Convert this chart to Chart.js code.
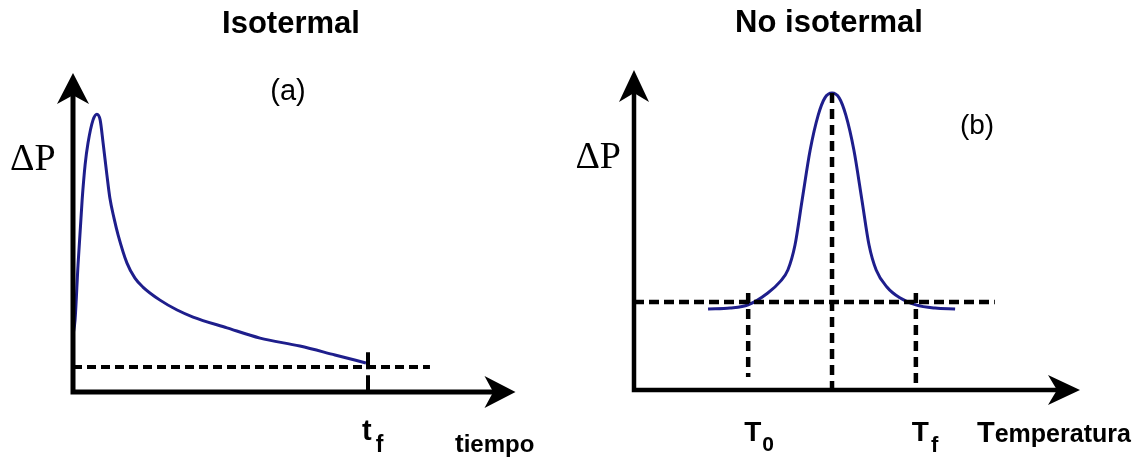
<!DOCTYPE html>
<html>
<head>
<meta charset="utf-8">
<script src="https://cdn.jsdelivr.net/npm/chart.js@4.4.0/dist/chart.umd.min.js"></script>
<style>
  html, body { margin: 0; padding: 0; background: #fff; }
  #wrap { position: relative; width: 1146px; height: 460px; }
  canvas { position: absolute; top: 0; }
  #iso { left: 0; }
  #noiso { left: 573px; }
</style>
</head>
<body>
<div id="wrap">
  <canvas id="iso" width="573" height="460"></canvas>
  <canvas id="noiso" width="573" height="460"></canvas>
</div>
<script>
// (a) isotermal: ΔP vs tiempo
const isoTime = [0, 0.007, 0.017, 0.031, 0.041, 0.051, 0.068, 0.081, 0.092, 0.102, 0.115, 0.125, 0.139, 0.153,
                 0.183, 0.210, 0.237, 0.295, 0.353, 0.407, 0.522, 0.634, 0.769, 0.888, 0.993];
const isoDP = [1.79, 2.26, 3.98, 6.02, 7.12, 7.81, 8.53, 8.71, 8.53, 7.81, 6.80, 6.08, 5.45, 4.92,
               4.04, 3.57, 3.29, 2.88, 2.57, 2.35, 2.01, 1.69, 1.44, 1.16, 0.91];
const tf = 1.0;
const isoBase = 0.78;      // dashed baseline level
const isoBaseEnd = 1.21;   // where the dashed baseline stops
const isoTickTop = 1.25;   // top of the tf marker

// (b) no isotermal: ΔP vs Temperatura
const tempX = [1.66, 2.15, 2.56, 3.0, 3.27, 3.45, 3.61, 3.77, 3.95, 4.13, 4.28, 4.44, 4.60, 4.75,
               4.93, 5.11, 5.27, 5.43, 5.67, 5.96, 6.32, 6.75, 7.20];
const tempDP = [2.53, 2.56, 2.66, 3.03, 3.38, 3.75, 4.53, 5.94, 7.50, 8.59, 9.13, 9.28, 9.13, 8.59,
                7.50, 5.94, 4.53, 3.75, 3.22, 2.88, 2.66, 2.56, 2.53];
const T0 = 2.56, Tpeak = 4.44, Tf = 6.32;
const tempBase = 2.75, tempBaseEnd = 8.09;
const guideTop = 3.03, T0Bottom = 0.41, tempPeak = 9.28;

const curveColor = '#1e1e8c';
const SANS = '"Liberation Sans", Arial, sans-serif';
const SERIF = '"Liberation Serif", "Times New Roman", serif';

function pts(xs, ys) { return xs.map((x, i) => ({ x: x, y: ys[i] })); }

function curve(data) {
  return { data: data, borderColor: curveColor, borderWidth: 3, pointRadius: 0, fill: false,
           cubicInterpolationMode: 'monotone', clip: false };
}

function dashed(data, dash, width) {
  return { data: data, borderColor: '#000', borderWidth: width, borderDash: dash, pointRadius: 0,
           fill: false, tension: 0, clip: false };
}

function arrow(ctx, x, y, dx, dy, len, hw) {
  const bx = x - dx * len, by = y - dy * len;
  const nx = x - dx * len * 0.72, ny = y - dy * len * 0.72;
  ctx.beginPath();
  ctx.moveTo(x, y);
  ctx.lineTo(bx - dy * hw, by + dx * hw);
  ctx.lineTo(nx, ny);
  ctx.lineTo(bx + dy * hw, by - dx * hw);
  ctx.closePath();
  ctx.fill();
}

function drawLabel(ctx, chart, lab) {
  let x = (lab.at != null) ? chart.scales.x.getPixelForValue(lab.at) + (lab.dx || 0) : lab.px;
  let total = 0;
  lab.parts.forEach(p => { ctx.font = p[1]; total += ctx.measureText(p[0]).width + (p[3] || 0); });
  if (lab.align === 'center') x -= total / 2;
  if (lab.align === 'right') x -= total;
  lab.parts.forEach(p => {
    ctx.font = p[1];
    x += p[3] || 0;
    ctx.fillText(p[0], x, lab.y + (p[2] || 0));
    x += ctx.measureText(p[0]).width;
  });
}

// axes with arrow heads + all the text, kept in a closure (not in chart options)
function axesPlugin(cfg) {
  return {
    id: 'axes',
    afterDatasetsDraw(chart) {
      const ctx = chart.ctx;
      const xs = chart.scales.x, ys = chart.scales.y;
      const x0 = xs.getPixelForValue(xs.min), x1 = xs.getPixelForValue(xs.max);
      const y0 = ys.getPixelForValue(ys.min), y1 = ys.getPixelForValue(ys.max);
      ctx.save();
      ctx.strokeStyle = '#000';
      ctx.fillStyle = '#000';
      ctx.lineWidth = cfg.width;
      ctx.beginPath();
      ctx.moveTo(x0, y0 + cfg.width / 2);
      ctx.lineTo(x0, y1 + cfg.head * 0.6);
      ctx.moveTo(x0 - cfg.width / 2, y0);
      ctx.lineTo(x1 - cfg.head * 0.6, y0);
      ctx.stroke();
      arrow(ctx, x0, y1, 0, -1, cfg.head, cfg.half);
      arrow(ctx, x1, y0, 1, 0, cfg.head, cfg.half);
      ctx.textBaseline = 'alphabetic';
      ctx.textAlign = 'left';
      cfg.labels.forEach(lab => drawLabel(ctx, chart, lab));
      ctx.restore();
    }
  };
}

function baseOptions(pad, xMax, yMax) {
  return {
    responsive: false,
    animation: false,
    events: [],
    layout: { padding: pad },
    plugins: { legend: { display: false }, tooltip: { enabled: false } },
    scales: {
      x: { type: 'linear', min: 0, max: xMax, display: false },
      y: { type: 'linear', min: 0, max: yMax, display: false }
    }
  };
}

new Chart(document.getElementById('iso'), {
  type: 'line',
  data: {
    datasets: [
      dashed([{ x: 0, y: isoBase }, { x: isoBaseEnd, y: isoBase }], [9, 5], 4),
      dashed([{ x: tf, y: isoTickTop }, { x: tf, y: 0 }], [17, 6], 4),
      curve(pts(isoTime, isoDP))
    ]
  },
  options: baseOptions({ left: 73, right: 57.5, top: 73, bottom: 68 }, 1.5, 10),
  plugins: [axesPlugin({
    width: 5, head: 31, half: 16,
    labels: [
      { px: 291, y: 33, align: 'center', parts: [['Isotermal', 'bold 31px ' + SANS]] },
      { px: 288, y: 100, align: 'center', parts: [['(a)', '29px ' + SANS]] },
      { px: 10, y: 170, parts: [['ΔP', '38px ' + SERIF]] },
      { at: tf, dx: -6, y: 440, parts: [['t', 'bold 29px ' + SANS], ['f', 'bold 23px ' + SANS, 12, 4]] },
      { px: 455, y: 452, parts: [['t', 'bold 26px ' + SANS], ['iempo', 'bold 24px ' + SANS]] }
    ]
  })]
});

new Chart(document.getElementById('noiso'), {
  type: 'line',
  data: {
    datasets: [
      dashed([{ x: 0, y: tempBase }, { x: tempBaseEnd, y: tempBase }], [10, 5], 4.5),
      dashed([{ x: T0, y: guideTop }, { x: T0, y: T0Bottom }], [10, 6], 4.5),
      dashed([{ x: Tpeak, y: tempPeak }, { x: Tpeak, y: 0 }], [10, 6], 4.5),
      dashed([{ x: Tf, y: guideTop }, { x: Tf, y: 0 }], [10, 6], 4.5),
      curve(pts(tempX, tempDP))
    ]
  },
  options: baseOptions({ left: 61, right: 66, top: 70, bottom: 70 }, 10, 10),
  plugins: [axesPlugin({
    width: 4.5, head: 32, half: 15,
    labels: [
      { px: 256, y: 32, align: 'center', parts: [['No isotermal', 'bold 31px ' + SANS]] },
      { px: 404, y: 134, align: 'center', parts: [['(b)', '28px ' + SANS]] },
      { px: 48, y: 168, align: 'right', parts: [['ΔP', '38px ' + SERIF]] },
      { at: T0, dx: -4, y: 441, parts: [['T', 'bold 28px ' + SANS], ['0', 'bold 21px ' + SANS, 10, 1]] },
      { at: Tf, dx: -4, y: 441, parts: [['T', 'bold 28px ' + SANS], ['f', 'bold 22px ' + SANS, 11, 2]] },
      { px: 404, y: 442, parts: [['T', 'bold 29px ' + SANS], ['emperatura', 'bold 25px ' + SANS]] }
    ]
  })]
});
</script>
</body>
</html>
